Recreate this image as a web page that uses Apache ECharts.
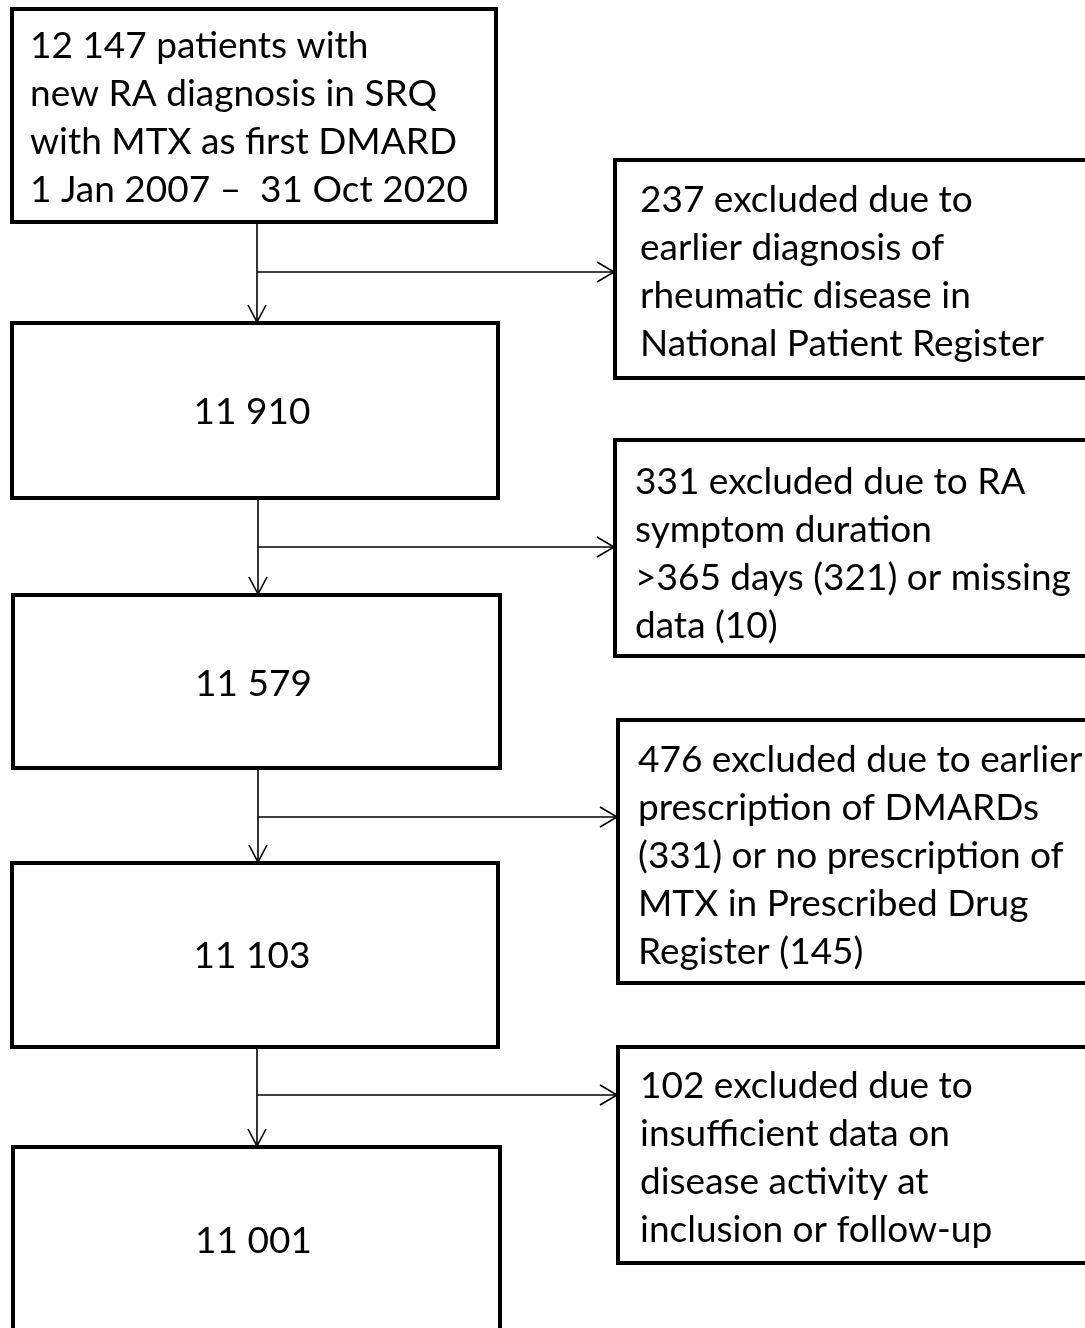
<!DOCTYPE html>
<html>
<head>
<meta charset="utf-8">
<script src="https://cdn.jsdelivr.net/npm/echarts@6/dist/echarts.min.js"></script>
<style>
  html, body { margin: 0; padding: 0; background: #fff; }
  #chart { width: 1085px; height: 1328px; }
</style>
</head>
<body>
<div id="chart"></div>
<script>
  // flow data
  var startLines = ['12 147 patients with', 'new RA diagnosis in SRQ', 'with MTX as first DMARD', '1 Jan 2007 \u2013  31 Oct 2020'];
  var remaining = ['11 910', '11 579', '11 103', '11 001'];
  var exclusions = [
    ['237 excluded due to', 'earlier diagnosis of', 'rheumatic disease in', 'National Patient Register'],
    ['331 excluded due to RA', 'symptom duration', '>365 days (321) or missing', 'data (10)'],
    ['476 excluded due to earlier', 'prescription of DMARDs', '(331) or no prescription of', 'MTX in Prescribed Drug', 'Register (145)'],
    ['102 excluded due to', 'insufficient data on', 'disease activity at', 'inclusion or follow-up']
  ];

  // layout (x, y, w, h)
  var leftBoxes = [[12, 9, 484, 213], [12, 323, 486, 175], [13, 595, 487, 173], [12, 863, 486, 184], [13, 1147, 487, 220]];
  var rightBoxes = [[615, 160, 500, 218], [615, 440, 500, 216], [618, 720, 500, 263], [618, 1047, 500, 216]];
  var numberY = [412, 684, 956, 1241];
  var rightFirstY = [200, 482, 760, 1086];
  var stemX = [257, 258, 258, 257];
  var branchY = [272, 547, 817, 1095];
  var textPad = [25, 20, 20, 22];
  var lineGap = 48;
  var font = 'Lato, "Open Sans", sans-serif';
  var fontSize = 37;

  var chart = echarts.init(document.getElementById('chart'));
  var els = [];

  function box(b) {
    els.push({
      type: 'rect',
      shape: { x: b[0], y: b[1], width: b[2], height: b[3] },
      style: { fill: '#fff', stroke: '#000', lineWidth: 4 }
    });
  }
  function label(txt, x, y, align) {
    els.push({
      type: 'text', x: x, y: y,
      style: { text: txt, font: fontSize + 'px ' + font, fill: '#000', align: align || 'left', verticalAlign: 'middle' }
    });
  }
  function line(pts) {
    els.push({
      type: 'polyline',
      shape: { points: pts },
      style: { stroke: '#000', lineWidth: 1.6, fill: null }
    });
  }

  leftBoxes.forEach(box);
  rightBoxes.forEach(box);

  startLines.forEach(function (t, i) {
    label(t, leftBoxes[0][0] + 18, 46 + i * lineGap);
  });
  remaining.forEach(function (t, i) {
    var b = leftBoxes[i + 1];
    label(t, b[0] + b[2] / 2 - 3, numberY[i], 'center');
  });
  exclusions.forEach(function (lines, i) {
    var b = rightBoxes[i];
    lines.forEach(function (t, j) {
      label(t, b[0] + textPad[i], rightFirstY[i] + j * lineGap);
    });
  });

  // connectors
  stemX.forEach(function (x, i) {
    var y0 = leftBoxes[i][1] + leftBoxes[i][3];
    var y1 = leftBoxes[i + 1][1] - 1;
    var ex = rightBoxes[i][0] - 1;
    var by = branchY[i];
    line([[x, y0], [x, y1]]);
    line([[x - 9, y1 - 17], [x, y1], [x + 9, y1 - 17]]);
    line([[x, by], [ex, by]]);
    line([[ex - 17, by - 10], [ex, by], [ex - 17, by + 10]]);
  });

  chart.setOption({
    backgroundColor: '#fff',
    animation: false,
    graphic: { elements: els }
  });
</script>
</body>
</html>
